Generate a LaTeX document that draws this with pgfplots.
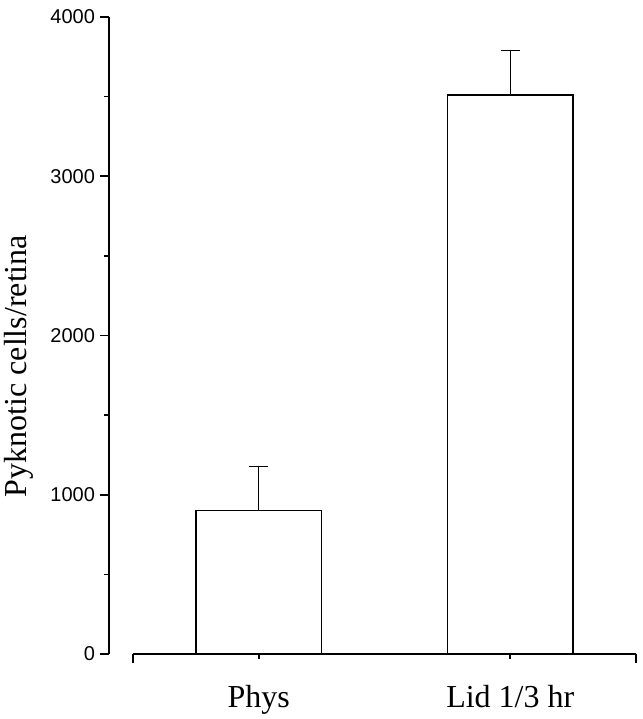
\documentclass[border=0pt]{standalone}
\usepackage{fontspec}
\setmainfont{Liberation Serif}
\newfontfamily\ticksans{Liberation Sans}
\usepackage{pgfplots}
\pgfplotsset{compat=1.18}

\begin{document}
\begin{tikzpicture}
  % page frame, 1 px of the reference = 0.75pt
  \path[use as bounding box] (-99.75pt,-48.75pt) rectangle (382.5pt,490.5pt);
  \begin{axis}[
    at={(0pt,0pt)}, anchor=south west,
    scale only axis, width=377.25pt, height=477.75pt,
    xmin=0.5, xmax=2.5, ymin=0, ymax=4000,
    axis x line=bottom, axis y line=left,
    axis y line shift=18pt,
    axis line style={-, line width=1.4pt},
    tick align=outside,
    major tick length=7pt, minor tick length=3.75pt,
    tick style={line width=1.2pt, black},
    xtick={0.5,2.5}, xticklabels={,},
    extra x ticks={1,2},
    extra x tick labels={Phys, Lid 1/3 hr},
    extra x tick style={major tick length=3.75pt,
      tick label style={font=\fontsize{24}{28}\selectfont, anchor=base, yshift=-36.3pt}},
    ytick={0,1000,2000,3000,4000},
    minor y tick num=1,
    yticklabel style={font=\ticksans\fontsize{15}{18}\selectfont},
    /pgf/number format/assume math mode=true,
    /pgf/number format/1000 sep={},
    ylabel={Pyknotic cells/retina},
    ylabel style={font=\fontsize{24}{28}\selectfont,
      at={([xshift=-85.5pt]rel axis cs:0,0.452)}, anchor=center},
  ]
    \addplot[ybar, bar width=0.5, fill=white, draw=black, line width=1.2pt,
      error bars/.cd, y dir=plus, y explicit,
      error bar style={line width=0.75pt, black},
      error mark options={rotate=90, line width=0.75pt, mark size=7pt, black}]
      coordinates {(1,900) +- (0,280) (2,3510) +- (0,280)};
  \end{axis}
\end{tikzpicture}
\end{document}
